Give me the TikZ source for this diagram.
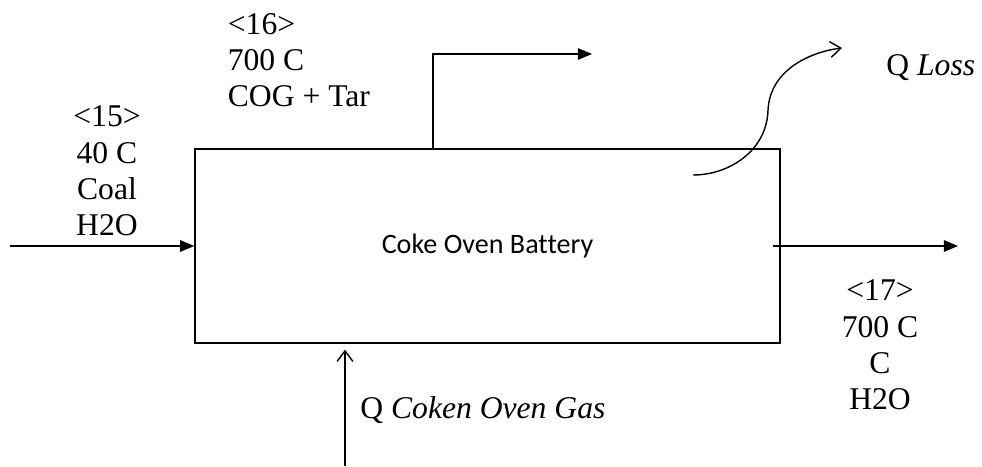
\documentclass[tikz,border=0pt]{standalone}
\usepackage{fontspec}
\setmainfont{Liberation Serif}
\setsansfont{Carlito}[Ligatures=CommonOff]
\usetikzlibrary{arrows.meta,positioning}

\begin{document}
\begin{tikzpicture}[
    unit/.style={draw, rectangle, line width=0.8pt, minimum width=11.7cm, minimum height=3.88cm, font=\sffamily\fontsize{16}{19}\selectfont},
    stream/.style={-{Triangle[length=8pt, width=6.5pt]}, line width=0.8pt},
    heat/.style={-{Straight Barb[length=6pt, width=9pt]}, line width=0.8pt},
    label/.style={align=center, font=\fontsize{18}{20.6}\selectfont, inner sep=0pt},
]
\useasboundingbox (0,0) rectangle (19.64,9.32);

% Unit
\node[unit] (cob) at (9.75, 4.40) {Coke Oven Battery};

% Stream ends
\coordinate (in15) at (0.2, 4.40);
\coordinate (up16) at (8.66, 8.24);
\coordinate (out16) at (11.84, 8.24);
\coordinate (out17) at (19.16, 4.40);
\coordinate (inq) at (6.9, 0);
\coordinate (lossa) at (13.86, 5.82);
\coordinate (lossb) at (16.84, 8.36);

\draw[stream] (in15) -- (cob.west);
\draw[stream] (cob.north -| up16) |- (out16);
\draw[stream] ([xshift=-0.16cm]cob.east) -- (out17);
\draw[heat, shorten >=3.4pt] (inq) -- (cob.south -| inq);
\draw[heat] (lossa) .. controls (14.6, 5.82) and (15.34, 6.32) .. (15.36, 7.12)
            .. controls (15.4, 7.92) and (16.2, 8.28) .. (lossb);

% Stream labels
\node[label] (s15) at (2.14, 5.9) {<15>\\40 C\\Coal\\H2O};
\node[label, align=left, anchor=west] (s16) at (4.55, 8.12) {<16>\\700 C\\COG + Tar};
\node[label] (s17) at (17.6, 2.42) {<17>\\700 C\\C\\H2O};
\node[label, anchor=west] (qgas) at (7.2, 1.12) {Q \textit{Coken Oven Gas}};
\node[label, anchor=west] (qloss) at (17.72, 7.96) {Q \textit{Loss}};

\end{tikzpicture}
\end{document}
